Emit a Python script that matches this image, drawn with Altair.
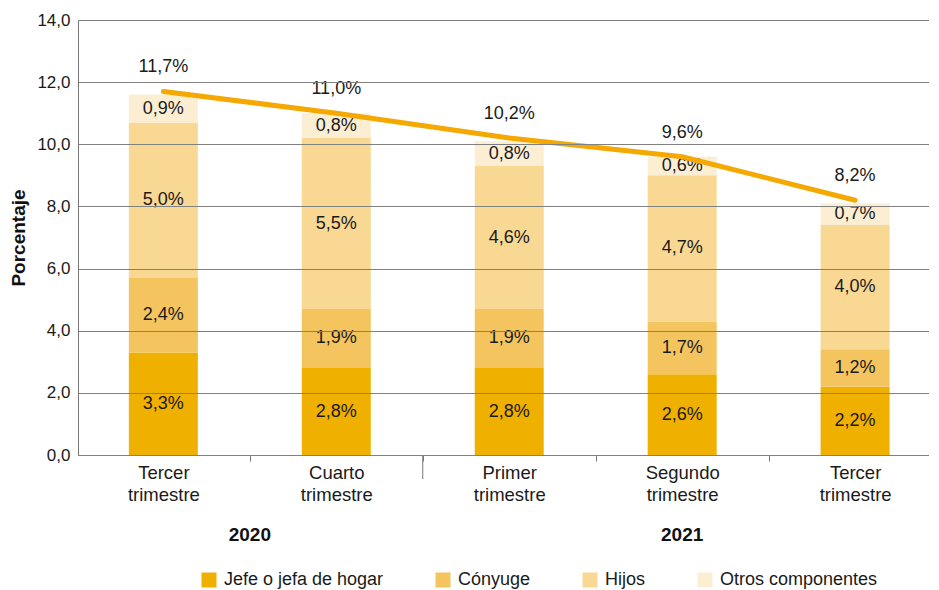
import json
import altair as alt
import pandas as pd

# ---- data ----
quarters = ["Tercer trimestre", "Cuarto trimestre", "Primer trimestre",
            "Segundo trimestre", "Tercer trimestre"]
years = ["2020", "2020", "2021", "2021", "2021"]
componentes = ["Jefe o jefa de hogar", "Cónyuge", "Hijos", "Otros componentes"]
jefe = [3.3, 2.8, 2.8, 2.6, 2.2]
conyuge = [2.4, 1.9, 1.9, 1.7, 1.2]
hijos = [5.0, 5.5, 4.6, 4.7, 4.0]
otros = [0.9, 0.8, 0.8, 0.6, 0.7]
total = [11.7, 11.0, 10.2, 9.6, 8.2]
y_ticks = [0, 2, 4, 6, 8, 10, 12, 14]

colors = ["#EFB000", "#F4C55E", "#F8D893", "#FCEED3"]
line_color = "#F5A900"
FONT = "Liberation Sans"
FS = 18

W, H = 851, 435

rows = []
for i in range(len(quarters)):
    for k, (name, serie) in enumerate(zip(componentes, [jefe, conyuge, hijos, otros])):
        rows.append({"idx": i, "componente": name, "orden": k, "valor": serie[i]})
bars_df = pd.DataFrame(rows)
tot_df = pd.DataFrame({"idx": list(range(len(quarters))), "total": total})
year_df = pd.DataFrame({"idx": list(range(len(quarters))), "year": years})
boundary = years.index("2021") - 0.5
sep_df = pd.DataFrame({"x": [boundary]})

xscale = alt.Scale(domain=[-0.4646, 4.3983], nice=False, zero=False)
yscale = alt.Scale(domain=[0, 14], nice=False)

label_arr = json.dumps(quarters, ensure_ascii=False)
x_axis = alt.Axis(
    values=[i * 0.5 for i in range(2 * len(quarters) - 1)],
    labelExpr=f"datum.value % 1 == 0 ? split({label_arr}[round(datum.value)], ' ') : ''",
    title=None, grid=False, domainColor="#777777", tickColor="#777777",
    tickSize=6, tickOpacity={"condition": {"test": "datum.value % 1 == 0", "value": 0}, "value": 1},
    labelFontSize=18.5, labelColor="#1a1a1a", labelLineHeight=22, labelPadding=2,
    labelBaseline="top", labelFont=FONT,
)
y_axis = alt.Axis(
    values=y_ticks, labelExpr="replace(format(datum.value, '.1f'), '.', ',')",
    title="Porcentaje", titleFontSize=19, titleFontWeight="bold", titleColor="#111111",
    titlePadding=8, titleFont=FONT,
    grid=True, gridColor="#808080", gridWidth=1.2, ticks=False, zindex=1,
    domainColor="#777777", labelFontSize=17, labelColor="#1a1a1a", labelPadding=8,
    labelFont=FONT,
)

base = alt.Chart(bars_df)

bars = base.mark_bar(size=69).encode(
    x=alt.X("idx:Q", scale=xscale, axis=x_axis),
    y=alt.Y("valor:Q", stack="zero", scale=yscale, axis=y_axis),
    color=alt.Color("componente:N",
                    scale=alt.Scale(domain=componentes, range=colors),
                    legend=alt.Legend(title=None, orient="none", direction="horizontal",
                                      legendX=122, legendY=551, symbolType="square",
                                      symbolSize=225, symbolStrokeWidth=0,
                                      labelFontSize=FS, labelColor="#1a1a1a",
                                      labelFont=FONT, columnPadding=50, labelOffset=6,
                                      padding=0)),
    order=alt.Order("orden:Q"),
)

seg_labels = base.transform_stack(
    stack="valor", groupby=["idx"], as_=["y0", "y1"], sort=[alt.SortField("orden")]
).transform_calculate(
    mid="(datum.y0 + datum.y1) / 2",
    lbl="replace(format(datum.valor, '.1f'), '.', ',') + '%'",
).mark_text(fontSize=FS, font=FONT, color="#1a1a1a").encode(
    x=alt.X("idx:Q", scale=xscale),
    y=alt.Y("mid:Q", scale=yscale),
    text="lbl:N",
)

line = alt.Chart(tot_df).mark_line(strokeWidth=5, color=line_color, strokeCap="round",
                                   strokeJoin="round").encode(
    x=alt.X("idx:Q", scale=xscale),
    y=alt.Y("total:Q", scale=yscale),
)

tot_labels = alt.Chart(tot_df).transform_calculate(
    lbl="replace(format(datum.total, '.1f'), '.', ',') + '%'"
).mark_text(fontSize=FS, font=FONT, color="#1a1a1a", dy=-24).encode(
    x=alt.X("idx:Q", scale=xscale),
    y=alt.Y("total:Q", scale=yscale),
    text="lbl:N",
)

year_labels = alt.Chart(year_df).transform_aggregate(
    pos="mean(idx)", groupby=["year"]
).mark_text(fontSize=19, font=FONT, fontWeight="bold", color="#111111").encode(
    x=alt.X("pos:Q", scale=xscale),
    y=alt.value(H + 80),
    text="year:N",
)

sep = alt.Chart(sep_df).mark_rule(color="#777777", strokeWidth=1).encode(
    x=alt.X("x:Q", scale=xscale),
    y=alt.value(H),
    y2=alt.value(H + 24),
)

chart = alt.layer(bars, seg_labels, line, tot_labels, year_labels, sep).properties(
    width=W, height=H, padding={"left": 1, "top": 3, "right": 0, "bottom": 0}
).configure_view(stroke=None).configure(font=FONT)

chart.save("out.html", embed_options={"renderer": "svg", "actions": False})
